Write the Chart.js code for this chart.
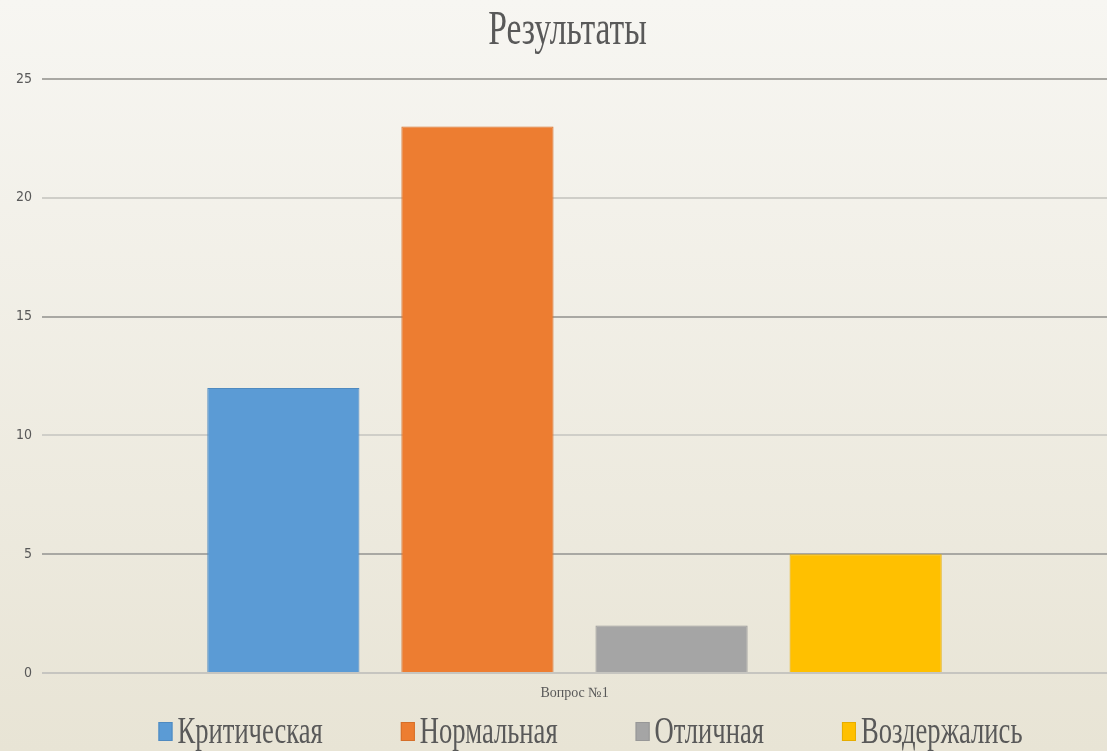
<!DOCTYPE html>
<html>
<head>
<meta charset="utf-8">
<script src="https://cdn.jsdelivr.net/npm/chart.js@4.4.1/dist/chart.umd.min.js"></script>
<style>
  html, body { margin: 0; padding: 0; background: #f1efe7; }
  #wrap { width: 1107px; height: 751px; position: relative; }
</style>
</head>
<body>
<div id="wrap"><canvas id="grafico"></canvas></div>
<script>
// Datos del gráfico
const categories = ['Вопрос №1'];
const seriesNames = ['Критическая', 'Нормальная', 'Отличная', 'Воздержались'];
const seriesValues = [[12], [23], [2], [5]];
const seriesColors = ['#5b9bd5', '#ed7d31', '#a5a5a5', '#ffc000'];
const seriesBorders = ['#4f8ac0', '#d56f2a', '#979797', '#e6ad00'];
const chartTitle = 'Результаты';

const SERIF = "'Liberation Serif', 'DejaVu Serif', serif";
const NARROW = "'Liberation Sans Narrow', 'DejaVu Sans Condensed', 'Liberation Sans', sans-serif";
const SQUEEZE = 0.7; // el texto original aparece comprimido horizontalmente

// Fondo degradado, título y leyenda comprimidos
const decoPlugin = {
    id: 'deco',
    beforeDraw(chart) {
        const ctx = chart.ctx;
        const g = ctx.createLinearGradient(0, 0, 0, chart.height);
        g.addColorStop(0, '#f7f6f2');
        g.addColorStop(1, '#e8e4d5');
        ctx.save();
        ctx.fillStyle = g;
        ctx.fillRect(0, 0, chart.width, chart.height);
        ctx.restore();
    },
    afterDraw(chart) {
        const ctx = chart.ctx;
        const area = chart.chartArea;
        const cx = (area.left + area.right) / 2;

        // Título
        ctx.save();
        ctx.font = '48px ' + SERIF;
        ctx.fillStyle = '#595959';
        ctx.textBaseline = 'alphabetic';
        const tw = ctx.measureText(chartTitle).width * SQUEEZE;
        ctx.translate(cx - 7 - tw / 2, 44);
        ctx.scale(SQUEEZE, 1);
        ctx.fillText(chartTitle, 0, 0);
        ctx.restore();

        // Leyenda
        ctx.save();
        ctx.font = '38px ' + SERIF;
        const box = 14, gap = 5, spacing = 78;
        const widths = seriesNames.map(n => ctx.measureText(n).width * SQUEEZE);
        const total = widths.reduce((a, b) => a + b, 0) + seriesNames.length * (box + gap) + spacing * (seriesNames.length - 1);
        let x = cx + 16 - total / 2;
        seriesNames.forEach((name, i) => {
            ctx.fillStyle = seriesColors[i];
            ctx.fillRect(x, 722, box, 19);
            ctx.strokeStyle = seriesBorders[i];
            ctx.lineWidth = 1;
            ctx.strokeRect(x + 0.5, 722.5, box - 1, 18);
            x += box + gap;
            ctx.save();
            ctx.translate(x, 743);
            ctx.scale(SQUEEZE, 1);
            ctx.fillStyle = '#595959';
            ctx.fillText(name, 0, 0);
            ctx.restore();
            x += widths[i] + spacing;
        });
        ctx.restore();
    }
};

const ctx = document.getElementById('grafico').getContext('2d');
const myChart = new Chart(ctx, {
    type: 'bar',
    data: {
        labels: categories,
        datasets: seriesNames.map((name, i) => ({
            label: name,
            data: seriesValues[i],
            backgroundColor: seriesColors[i],
            borderColor: seriesBorders[i],
            borderWidth: 1,
            categoryPercentage: 0.729,
            barPercentage: 0.784
        }))
    },
    options: {
        responsive: true,
        maintainAspectRatio: false,
        animation: false,
        layout: { padding: { top: 79, right: 0, bottom: 50, left: 0 } },
        plugins: {
            legend: { display: false },
            title: { display: false },
            tooltip: { enabled: false }
        },
        scales: {
            x: {
                grid: { display: false, drawTicks: false },
                border: { display: false },
                ticks: {
                    color: '#595959',
                    padding: 12,
                    font: { family: SERIF, size: 14 }
                },
                afterFit(scale) { scale.height = 28; }
            },
            y: {
                min: 0,
                max: 25,
                ticks: {
                    stepSize: 5,
                    color: '#595959',
                    padding: 10,
                    font: { family: NARROW, size: 14 }
                },
                border: { display: false },
                grid: {
                    drawTicks: false,
                    lineWidth: 2,
                    color: c => {
                        const v = c.tick.value;
                        if (v === 0) return '#c6c5c0';
                        return (v / 5) % 2 === 1 ? '#a9a8a3' : '#cfcec8';
                    }
                },
                afterFit(scale) { scale.width = 42; }
            }
        }
    },
    plugins: [decoPlugin]
});
</script>
</body>
</html>
